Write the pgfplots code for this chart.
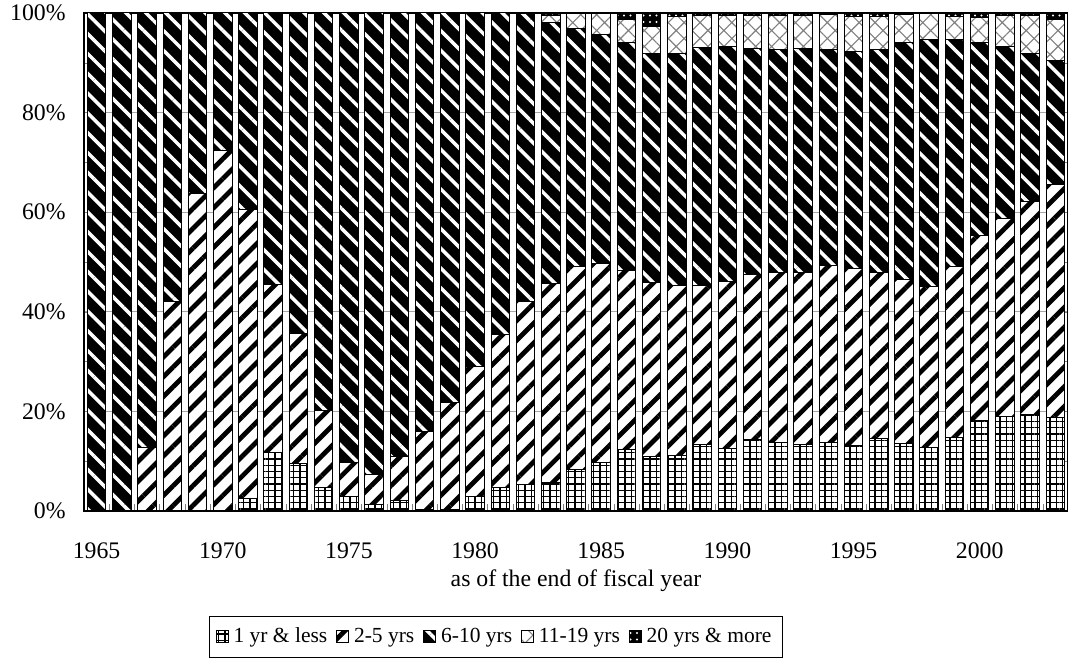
\documentclass[border=0pt]{standalone}
\usepackage{fontspec}
\setmainfont{Liberation Serif}
\usepackage{pgfplots}
\usepackage{pgfplotstable}
\pgfplotsset{compat=1.18}
\usetikzlibrary{patterns.meta}

% share of each maturity band, per cent; columns add up to 100
\pgfplotstableread{
year a b c d e
1965 0 0 100 0 0
1966 0 0 100 0 0
1967 0 12.7 87.3 0 0
1968 0 42.0 58.0 0 0
1969 0 63.8 36.2 0 0
1970 0 72.4 27.6 0 0
1971 2.6 58.0 39.4 0 0
1972 11.7 33.7 54.6 0 0
1973 9.6 26.0 64.4 0 0
1974 4.8 15.4 79.8 0 0
1975 2.9 6.8 90.3 0 0
1976 1.4 6.0 92.6 0 0
1977 2.2 8.8 89.0 0 0
1978 0.2 15.7 84.1 0 0
1979 0.3 21.4 78.3 0 0
1980 2.9 26.1 71.0 0 0
1981 4.7 30.8 64.5 0 0
1982 5.4 36.6 57.8 0.2 0
1983 5.8 39.9 52.3 1.5 0.5
1984 8.4 40.7 47.8 2.9 0.2
1985 9.8 39.9 45.9 4.2 0.2
1986 12.3 36.0 45.7 4.7 1.3
1987 10.9 35.0 46.0 5.4 2.7
1988 11.2 34.0 46.7 7.4 0.7
1989 13.4 31.9 47.7 6.5 0.5
1990 12.6 33.4 47.2 6.3 0.5
1991 14.4 33.1 45.4 6.6 0.5
1992 13.8 34.1 44.7 6.9 0.5
1993 13.4 34.5 44.9 6.7 0.5
1994 13.8 35.5 43.3 7.0 0.4
1995 13.1 35.5 43.6 7.1 0.7
1996 14.5 33.4 44.7 6.6 0.8
1997 13.5 33.0 47.5 5.6 0.4
1998 12.7 32.3 49.7 5.1 0.2
1999 14.8 34.3 45.6 4.6 0.7
2000 18.1 37.3 38.6 5.1 0.9
2001 18.9 39.9 34.4 6.2 0.6
2002 19.3 42.8 29.8 7.5 0.6
2003 18.8 46.8 24.8 8.3 1.3
}\mat

\pgfplotsset{
  sq/.style={legend image code/.code={
    \draw[##1, line width=0.4pt] (0pt,-2.4pt) rectangle (4.8pt,2.4pt);}},
}

\begin{document}
\fontsize{9.5pt}{11pt}\selectfont
\begin{tikzpicture}
\begin{axis}[
    name=ax,
    scale only axis,
    width=393.6pt, height=199.2pt,
    ybar stacked,
    bar width=7.4pt,
    xmin=1964.5, xmax=2003.5,
    ymin=0, ymax=100,
    xtick={1965,1970,...,2000},
    minor xtick={1964.5,1965.5,...,2003.5},
    major x tick style={draw=none},
    minor tick length=2.6pt,
    major tick length=3pt,
    tick align=inside,
    xtick pos=bottom,
    ytick={0,20,...,100},
    minor y tick num=1,
    yticklabel={\pgfmathprintnumber{\tick}\%},
    /pgf/number format/assume math mode=true,
    /pgf/number format/1000 sep={},
    xticklabel style={yshift=-9.5pt},
    yticklabel style={xshift=-4pt},
    ymajorgrids,
    grid style={gray!70, line width=0.4pt},
    axis line style={line width=0.5pt},
    xlabel={as of the end of fiscal year},
    xlabel style={at={(axis description cs:0.5,-0.139)}, anchor=center},
    legend columns=-1,
    legend style={at={(0.4187,-0.253)}, anchor=center, draw=black,
      line width=0.5pt, inner sep=2.5pt, font=\fontsize{8.6pt}{10pt}\selectfont,
      /tikz/every even column/.append style={column sep=1.5pt}},
    legend cell align=left,
]
\addplot[sq, draw=black, line width=0.4pt, fill=white,
  postaction={pattern={Hatch[angle=0, distance=2.5pt, line width=0.55pt]}, pattern color=black}]
  table[x=year, y=a] {\mat};
\addplot[sq, draw=black, line width=0.4pt, fill=white,
  postaction={pattern={Lines[angle=45, distance=5.6pt, line width=1.9pt]}, pattern color=black}]
  table[x=year, y=b] {\mat};
\addplot[sq, draw=black, line width=0.4pt, fill=black,
  postaction={pattern={Lines[angle=-45, distance=5.6pt, line width=1.4pt]}, pattern color=white}]
  table[x=year, y=c] {\mat};
\addplot[sq, draw=black, line width=0.4pt, fill=white,
  postaction={pattern={Hatch[angle=45, distance=4.5pt, line width=0.45pt]}, pattern color=gray}]
  table[x=year, y=d] {\mat};
\addplot[sq, draw=black, line width=0.4pt, fill=black,
  postaction={pattern={Dots[distance=2.6pt, radius=0.45pt]}, pattern color=white}]
  table[x=year, y=e] {\mat};
\legend{1 yr \& less, 2-5 yrs, 6-10 yrs, 11-19 yrs, 20 yrs \& more}
\end{axis}
\pgfresetboundingbox
\path[use as bounding box] ([xshift=-33.6pt, yshift=-59.2pt]ax.south west)
  rectangle ([yshift=5.2pt]ax.north east);
\end{tikzpicture}
\end{document}
